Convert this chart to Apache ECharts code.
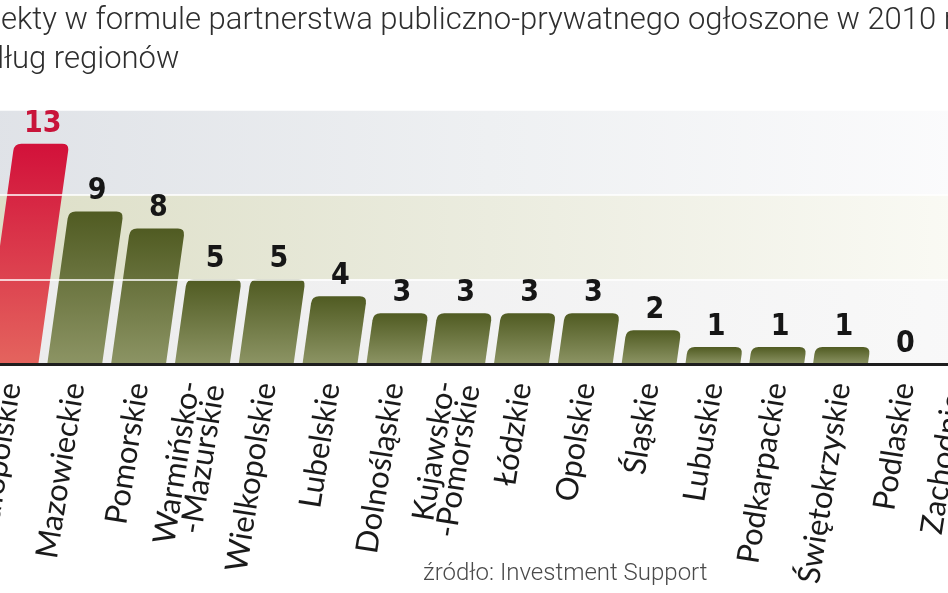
<!DOCTYPE html>
<html>
<head>
<meta charset="utf-8">
<script src="https://cdn.jsdelivr.net/npm/echarts@6/dist/echarts.min.js"></script>
<style>
html,body{margin:0;padding:0;background:#fff;overflow:hidden;}
#chart{width:948px;height:593px;}
</style>
</head>
<body>
<div id="chart"></div>
<script>
// ---- data ----
const titleLine1 = "Projekty w formule partnerstwa publiczno-prywatnego ogłoszone w 2010 r.";
const titleLine2 = "według regionów";
const sourceText = "źródło: Investment Support";
const regions = [
  "Małopolskie", "Mazowieckie", "Pomorskie", "Warmińsko-\n-Mazurskie", "Wielkopolskie",
  "Lubelskie", "Dolnośląskie", "Kujawsko-\n-Pomorskie", "Łódzkie", "Opolskie",
  "Śląskie", "Lubuskie", "Podkarpackie", "Świętokrzyskie", "Podlaskie", "Zachodnio-\n-pomorskie"
];
const projects = [13, 9, 8, 5, 5, 4, 3, 3, 3, 3, 2, 1, 1, 1, 0, 0];
const highlightIndex = [0];

// ---- helpers ----
const TITLE_FONT = '300 31px Roboto, "Liberation Sans", sans-serif';
function textWidth(t, font) {
  const c = document.createElement('canvas').getContext('2d');
  c.font = font;
  return c.measureText(t).width;
}
const SLANT = 0.14;

function geom(api) {
  const idx = api.value(0);
  const v = api.value(1);
  const base = api.coord([idx, 0]);
  const top = api.coord([idx, v]);
  const bw = api.size([1, 0])[0] * 0.86;
  const h = base[1] - top[1];
  return { idx, v, base, top, bw, h, s: h * SLANT };
}

function renderBar(params, api) {
  const g = geom(api);
  if (g.h <= 0.5) return null;
  const x0 = g.base[0] - g.bw / 2, x1 = g.base[0] + g.bw / 2;
  const yb = g.base[1], yt = g.top[1], s = g.s;
  const red = highlightIndex.indexOf(g.idx) >= 0;
  const r = Math.min(7, g.h / 2);
  const k = SLANT;
  const d = [
    'M', x0, yb,
    'L', x1, yb,
    'L', x1 + s - k * r, yt + r,
    'Q', x1 + s, yt, x1 + s - r, yt,
    'L', x0 + s + r, yt,
    'Q', x0 + s, yt, x0 + s - k * r, yt + r,
    'Z'
  ].join(' ');
  return {
    type: 'path',
    shape: { pathData: d },
    style: {
      fill: new echarts.graphic.LinearGradient(0, 0, 0, 1, red
        ? [{ offset: 0, color: '#d2113a' }, { offset: 1, color: '#e4645e' }]
        : [{ offset: 0, color: '#505b22' }, { offset: 1, color: '#8c9464' }])
    }
  };
}

function renderLabel(params, api) {
  const g = geom(api);
  const red = highlightIndex.indexOf(g.idx) >= 0;
  return {
    type: 'text',
    x: g.base[0] + g.s + 1,
    y: g.top[1] - 5,
    style: {
      text: String(g.v),
      fill: red ? '#c8143a' : '#161616',
      font: 'bold 30px "DejaVu Sans Condensed", "DejaVu Sans", sans-serif',
      align: 'center',
      verticalAlign: 'bottom'
    }
  };
}

const chart = echarts.init(document.getElementById('chart'), null, { renderer: 'canvas' });

const x1Title = -textWidth("Proj", TITLE_FONT) + 1;
const x2Title = -textWidth("wed", TITLE_FONT) + 4;
const seriesData = projects.map((v, i) => [i, v]);

chart.setOption({
  backgroundColor: '#ffffff',
  animation: false,
  grid: { left: -21, right: -52, top: 110, bottom: 229, containLabel: false, outerBoundsMode: 'none' },
  xAxis: {
    type: 'category',
    data: regions,
    z: 12,
    axisLine: { show: true, lineStyle: { color: '#1e1e1e', width: 3 } },
    axisTick: { show: false },
    axisLabel: {
      rotate: 81,
      margin: 19,
      interval: 0,
      color: '#1a1a1a',
      fontFamily: 'Lato, "Open Sans", sans-serif',
      fontSize: 31,
      lineHeight: 25
    }
  },
  yAxis: [{
    type: 'value',
    min: 0, max: 15, interval: 5,
    axisLine: { show: false },
    axisTick: { show: false },
    axisLabel: { show: false },
    splitLine: { show: false },
    splitArea: {
      show: true,
      areaStyle: {
        color: [
          { type: 'linear', x: 0, y: 0, x2: 1, y2: 0, colorStops: [{ offset: 0, color: '#ebebec' }, { offset: 1, color: '#f9f9f9' }] },
          { type: 'linear', x: 0, y: 0, x2: 1, y2: 0, colorStops: [{ offset: 0, color: '#dcdec6' }, { offset: 0.5, color: '#ebecdf' }, { offset: 1, color: '#fbfbf6' }] },
          { type: 'linear', x: 0, y: 0, x2: 1, y2: 0, colorStops: [{ offset: 0, color: '#dfe2e7' }, { offset: 0.5, color: '#eef0f2' }, { offset: 1, color: '#fcfcfd' }] }
        ]
      }
    }
  }, {
    type: 'value',
    min: 0, max: 15, interval: 5,
    position: 'left',
    z: 10,
    axisLine: { show: false },
    axisTick: { show: false },
    axisLabel: { show: false },
    splitArea: { show: false },
    splitLine: { show: true, lineStyle: { color: 'rgba(255,255,255,0.75)', width: 2 } }
  }],
  series: [{
    type: 'custom',
    yAxisIndex: 0,
    z: 5,
    renderItem: renderBar,
    data: seriesData
  }, {
    type: 'custom',
    yAxisIndex: 0,
    z: 15,
    renderItem: renderLabel,
    data: seriesData
  }],
  graphic: [
    { type: 'text', x: x1Title, y: 6, style: { text: titleLine1, font: TITLE_FONT, fill: '#2e2e2e' } },
    { type: 'text', x: x2Title, y: 45, style: { text: titleLine2, font: TITLE_FONT, fill: '#2e2e2e' } },
    { type: 'text', x: 423, y: 562, style: { text: sourceText, font: '300 24px Roboto, "Liberation Sans", sans-serif', fill: '#4a4a4a' } }
  ]
});
</script>
</body>
</html>
